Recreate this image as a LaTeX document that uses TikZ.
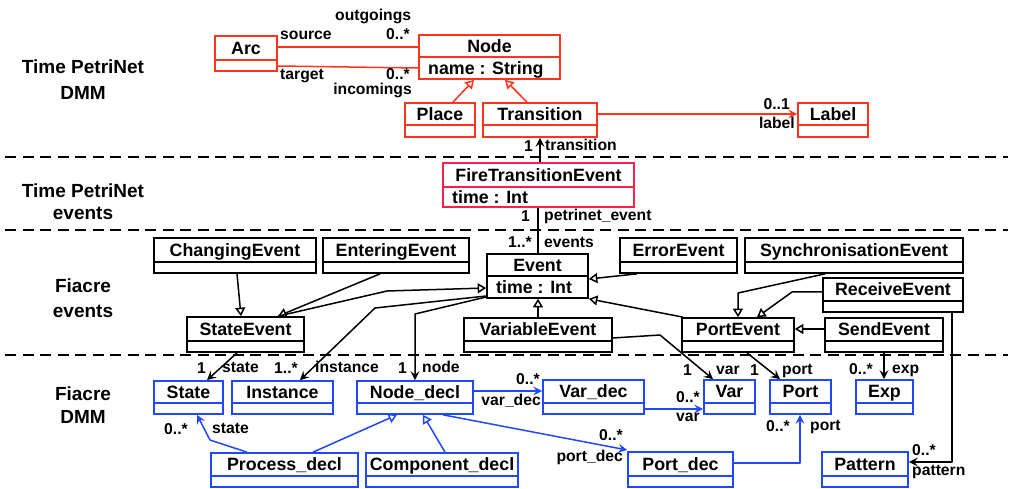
\documentclass[tikz,border=0pt]{standalone}
\usepackage{fontspec}
\setmainfont{Liberation Sans}
\usetikzlibrary{arrows.meta}

\definecolor{dmmred}{RGB}{255,52,28}
\definecolor{evtred}{RGB}{246,34,74}
\definecolor{dmmblue}{RGB}{32,72,255}

\tikzset{
  box/.style={draw=#1, line width=1.7pt, inner sep=0pt, outer sep=0.85pt, rectangle},
  divider/.style={draw=#1, line width=1.7pt},
  classname/.style={font=\fontsize{17.8}{20}\selectfont\bfseries, inner sep=0pt, text height=12.8pt, text depth=0pt},
  classattr/.style={classname, anchor=west},
  lbl/.style={font=\fontsize{15.7}{18}\selectfont\bfseries, inner sep=0pt, text height=11.3pt, text depth=0pt},
  section/.style={font=\fontsize{19}{23}\selectfont\bfseries, inner sep=0pt, anchor=base},
  conn/.style={line width=1.5pt, line join=round},
  assoc/.style={conn, -{Stealth[length=9pt, width=9pt, inset=3.5pt]}},
  gen/.style={conn, -{Triangle[open, length=8.5pt, width=10pt, fill=white]}},
  sepline/.style={line width=1.8pt, dash pattern=on 11pt off 6.5pt},
}

% class box: colour, name, x1, y1, x2, y2, divider y, title, attribute
\newcommand\klass[9]{%
  \node[box=#1, minimum width={(#5)-(#3)}, minimum height={(#6)-(#4)}] (#2) at ({(#3+#5)/2},{(#4+#6)/2}) {};
  \draw[divider=#1] (#2.west |- 0,#7) -- (#2.east |- 0,#7);
  \node[classname] (#2-name) at ({(#3+#5)/2},{(#4+#7)/2}) {#8};
  \if\relax\detokenize{#9}\relax\else
    \node[classattr] (#2-attr) at (#3+9,{(#7+#6)/2}) {#9};
  \fi
}

\begin{document}
\begin{tikzpicture}[x=1pt, y=-1pt]
\useasboundingbox (0,0) rectangle (1013,489);

% layer separators
\draw[sepline] (5,157) -- (1008,157);
\draw[sepline] (5,230) -- (1008,230);
\draw[sepline] (5,355) -- (1008,355);

% layer titles
\node[section] (s1a) at (83,74) {Time PetriNet};
\node[section] (s1b) at (83,100) {DMM};
\node[section] (s2a) at (83,198) {Time PetriNet};
\node[section] (s2b) at (83,220) {events};
\node[section] (s3a) at (83,293) {Fiacre};
\node[section] (s3b) at (83,318) {events};
\node[section] (s4a) at (83,400) {Fiacre};
\node[section] (s4b) at (83,423) {DMM};

% Time PetriNet DMM
\klass{dmmred}{Arc}{215}{36}{277}{71}{60}{Arc}{}
\klass{dmmred}{Node}{419}{35}{560}{79}{57}{Node}{name : String}
\klass{dmmred}{Place}{405}{103}{475}{137}{125}{Place}{}
\klass{dmmred}{Transition}{483}{103}{597}{137}{125}{Transition}{}
\klass{dmmred}{Label}{798}{103}{868}{137}{125}{Label}{}

% Time PetriNet events
\klass{evtred}{FTE}{443}{163}{634}{207}{187}{FireTransitionEvent}{time : Int}

% Fiacre events
\klass{black}{ChangingEvent}{154}{238}{316}{273}{262}{ChangingEvent}{}
\klass{black}{EnteringEvent}{323}{238}{469}{273}{262}{EnteringEvent}{}
\klass{black}{Event}{487}{254}{588}{298}{276}{Event}{time : Int}
\klass{black}{ErrorEvent}{620}{238}{737}{273}{262}{ErrorEvent}{}
\klass{black}{SyncEvent}{745}{238}{963}{273}{262}{SynchronisationEvent}{}
\klass{black}{ReceiveEvent}{823}{278}{963}{312}{301}{ReceiveEvent}{}
\klass{black}{StateEvent}{187}{317}{304}{352}{341}{StateEvent}{}
\klass{black}{VariableEvent}{464}{318}{612}{352}{341}{VariableEvent}{}
\klass{black}{PortEvent}{682}{318}{794}{352}{341}{PortEvent}{}
\klass{black}{SendEvent}{825}{318}{943}{352}{341}{SendEvent}{}

% Fiacre DMM
\klass{dmmblue}{State}{154}{381}{223}{414}{403}{State}{}
\klass{dmmblue}{Instance}{232}{381}{333}{414}{403}{Instance}{}
\klass{dmmblue}{NodeDecl}{357}{381}{473}{414}{403}{Node\_decl}{}
\klass{dmmblue}{VarDec}{543}{380}{644}{414}{403}{Var\_dec}{}
\klass{dmmblue}{Var}{704}{380}{755}{414}{403}{Var}{}
\klass{dmmblue}{Port}{770}{380}{831}{414}{403}{Port}{}
\klass{dmmblue}{Exp}{856}{380}{913}{414}{403}{Exp}{}
\klass{dmmblue}{ProcessDecl}{211}{453}{358}{487}{476}{Process\_decl}{}
\klass{dmmblue}{ComponentDecl}{366}{453}{518}{487}{476}{Component\_decl}{}
\klass{dmmblue}{PortDec}{628}{452}{733}{487}{476}{Port\_dec}{}
\klass{dmmblue}{Pattern}{822}{452}{908}{487}{476}{Pattern}{}

% --- Time PetriNet DMM relations
\draw[conn, dmmred] (Arc.east |- 0,47) -- (Node.west |- 0,47);
\draw[conn, dmmred] (Arc.east |- 0,66) -- (Node.west |- 0,68);
\draw[gen, dmmred] (Place.north -| 453,0) -- (Node.south -| 474,0);
\draw[gen, dmmred] (Transition.north -| 527,0) -- (Node.south -| 505,0);
\draw[assoc, dmmred] (Transition.east |- 0,114) -- (Label.west |- 0,114);

\node[lbl, anchor=west] (l-out) at (335,15) {outgoings};
\node[lbl, anchor=west] (l-src) at (280,34) {source};
\node[lbl, anchor=east] (l-srcm) at (410,34) {0..*};
\node[lbl, anchor=west] (l-tgt) at (280,74) {target};
\node[lbl, anchor=east] (l-tgtm) at (410,74) {0..*};
\node[lbl, anchor=east] (l-inc) at (412,89) {incomings};
\node[lbl, anchor=east] (l-labm) at (790,104) {0..1};
\node[lbl, anchor=east] (l-lab) at (795,123) {label};

% --- events to DMM
\draw[assoc] (FTE.north -| 540,0) -- (Transition.south -| 540,0);
\node[lbl, anchor=east] (l-trm) at (533,146) {1};
\node[lbl, anchor=west] (l-tr) at (545,145) {transition};
\draw[conn] (Event.north -| 538,0) -- (FTE.south -| 538,0);
\node[lbl, anchor=east] (l-pem) at (530,216) {1};
\node[lbl, anchor=west] (l-pe) at (544,215) {petrinet\_event};
\node[lbl, anchor=east] (l-evm) at (532,242) {1..*};
\node[lbl, anchor=west] (l-ev) at (544,242) {events};

% --- Fiacre events hierarchy
\draw[gen] (ChangingEvent.south -| 237,0) -- (StateEvent.north -| 241,0);
\draw[gen] (EnteringEvent.south -| 380,0) -- (StateEvent.north -| 278,0);
\draw[gen] (StateEvent.north -| 278,0) -- (387,291) -- (Event.west |- 0,288);
\draw[gen] (VariableEvent.north -| 538,0) -- (Event.south -| 538,0);
\draw[gen] (ErrorEvent.south -| 637,0) -- (Event.east |- 0,279);
\draw[gen] (PortEvent.north -| 683,0) -- (Event.south east);
\draw[gen] (SyncEvent.south -| 825,0) -- (738,293) -- (PortEvent.north -| 738,0);
\draw[gen] (ReceiveEvent.west |- 0,292) -- (792,292) -- (PortEvent.north -| 757,0);
\draw[gen] (SendEvent.west |- 0,329) -- (PortEvent.east |- 0,329);

% --- events to Fiacre DMM
\draw[assoc] (StateEvent.south -| 237,0) -- (State.north -| 207,0);
\draw[assoc] (Event.west |- 0,296) -- (375,308) -- (Instance.north -| 300,0);
\draw[assoc] (Event.west |- 0,297) -- (415,314) -- (NodeDecl.north -| 415,0);
\draw[assoc] (VariableEvent.east |- 0,338) -- (660,335) -- (Var.north -| 713,0);
\draw[assoc] (PortEvent.south -| 747,0) -- (Port.north -| 780,0);
\draw[assoc] (SendEvent.south -| 884,0) -- (Exp.north -| 884,0);
\draw[assoc] (ReceiveEvent.south -| 952,0) -- (952,462) -- (Pattern.east |- 0,462);

\node[lbl, anchor=east] (l-stm) at (206,368) {1};
\node[lbl, anchor=west] (l-st) at (222,367) {state};
\node[lbl, anchor=east] (l-inm) at (298,368) {1..*};
\node[lbl, anchor=west] (l-in) at (315,367) {instance};
\node[lbl, anchor=east] (l-ndm) at (407,368) {1};
\node[lbl, anchor=west] (l-nd) at (422,367) {node};
\node[lbl, anchor=east] (l-vrm) at (692,370) {1};
\node[lbl, anchor=west] (l-vr) at (716,369) {var};
\node[lbl, anchor=east] (l-ptm) at (759,370) {1};
\node[lbl, anchor=west] (l-pt) at (782,369) {port};
\node[lbl, anchor=east] (l-exm) at (873,369) {0..*};
\node[lbl, anchor=west] (l-ex) at (892,368) {exp};
\node[lbl, anchor=west] (l-pam) at (912,450) {0..*};
\node[lbl, anchor=west] (l-pa) at (912,470) {pattern};

% --- Fiacre DMM relations
\draw[assoc, dmmblue] (NodeDecl.east |- 0,391) -- (VarDec.west |- 0,391);
\draw[assoc, dmmblue] (VarDec.east |- 0,409) -- (Var.west |- 0,409);
\draw[assoc, dmmblue] (NodeDecl.south -| 443,0) -- (PortDec.west |- 0,450);
\draw[assoc, dmmblue] (PortDec.east |- 0,463) -- (800,463) -- (Port.south -| 800,0);
\draw[assoc, dmmblue] (ProcessDecl.north -| 247,0) -- (210,440) -- (State.south -| 197,0);
\draw[gen, dmmblue] (ProcessDecl.north -| 313,0) -- (NodeDecl.south -| 397,0);
\draw[gen, dmmblue] (ComponentDecl.north -| 445,0) -- (NodeDecl.south -| 423,0);

\node[lbl, anchor=east] (l-vdm) at (540,379) {0..*};
\node[lbl, anchor=east] (l-vd) at (541,400) {var\_dec};
\node[lbl, anchor=east] (l-vam) at (700,397) {0..*};
\node[lbl, anchor=east] (l-va) at (700,416) {var};
\node[lbl, anchor=east] (l-pdm) at (623,435) {0..*};
\node[lbl, anchor=east] (l-pd) at (623,456) {port\_dec};
\node[lbl, anchor=east] (l-pom) at (790,426) {0..*};
\node[lbl, anchor=west] (l-po) at (810,425) {port};
\node[lbl, anchor=east] (l-sdm) at (188,429) {0..*};
\node[lbl, anchor=west] (l-sd) at (212,428) {state};
\end{tikzpicture}
\end{document}
